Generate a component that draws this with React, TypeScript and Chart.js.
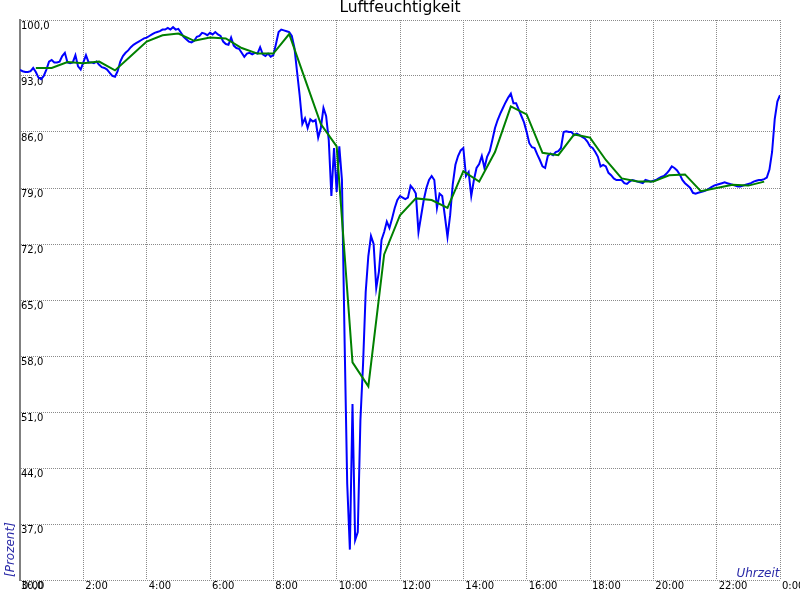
import { useEffect, useRef } from 'react';
import { Chart, registerables } from 'chart.js';

Chart.register(...registerables);

const TITLE = 'Luftfeuchtigkeit';
const Y_AXIS_LABEL = '[Prozent]';
const X_AXIS_LABEL = 'Uhrzeit';

const Y_MIN = 30;
const Y_MAX = 100;
const Y_STEP = 7;
const X_MIN_MINUTES = 0;
const X_MAX_MINUTES = 1440;
const X_TICK_STEP_MINUTES = 120;

// Measured humidity, one value every 5 minutes from 0:00 to 24:00
const MEASURE_STEP_MIN = 5;
const humidity: number[] = [
  // 0:00
  93.75, 93.6, 93.5, 93.5, 93.6, 94.0, 93.5, 92.8, 92.6, 93.0, 93.8, 94.8,
  // 1:00
  95.0, 94.7, 94.7, 94.8, 95.5, 95.9, 94.7, 94.6, 94.7, 95.6, 94.2, 93.8,
  // 2:00
  94.7, 95.6, 94.7, 94.7, 94.6, 94.8, 94.4, 94.1, 94.0, 93.8, 93.4, 93.0,
  // 3:00
  92.9, 93.6, 94.8, 95.5, 95.9, 96.2, 96.6, 96.9, 97.1, 97.3, 97.5, 97.7,
  // 4:00
  97.8, 98.0, 98.2, 98.4, 98.5, 98.6, 98.8, 98.8, 99.0, 98.8, 99.1, 98.8,
  // 5:00
  98.9, 98.4, 97.9, 97.6, 97.3, 97.2, 97.4, 97.9, 98.0, 98.4, 98.3, 98.1,
  // 6:00
  98.4, 98.2, 98.5, 98.2, 98.0, 97.3, 97.0, 96.9, 97.8, 96.8, 96.5, 96.4,
  // 7:00
  95.9, 95.4, 95.8, 95.9, 95.7, 95.9, 95.8, 96.6, 95.7, 95.5, 95.8, 95.4,
  // 8:00
  95.6, 97.0, 98.5, 98.8, 98.7, 98.6, 98.5, 98.0, 96.5, 93.5, 90.5, 87.0,
  // 9:00
  87.7, 86.5, 87.6, 87.3, 87.5, 85.3, 86.5, 89.0, 88.0, 85.0, 78.0, 84.0,
  // 10:00
  78.5, 84.2, 80.0, 60.0, 42.0, 33.8, 52.0, 35.0, 36.0, 50.0, 57.0, 66.0,
  // 11:00
  70.5, 73.0, 72.0, 66.5, 68.5, 72.5, 73.5, 74.8, 74.0, 75.2, 76.5, 77.5,
  // 12:00
  78.0, 77.8, 77.6, 77.8, 79.3, 78.9, 78.3, 73.5, 75.5, 77.5, 79.0, 80.0,
  // 13:00
  80.5, 80.0, 76.5, 78.3, 78.0, 75.5, 72.9, 75.6, 79.5, 81.9, 83.0, 83.7,
  // 14:00
  84.0, 80.5, 81.0, 78.0, 80.0, 81.5, 82.0, 83.0, 81.5, 82.9, 83.6, 85.0,
  // 15:00
  86.5, 87.5, 88.3, 89.0, 89.7, 90.3, 90.8, 89.6, 89.6, 88.8, 88.0, 87.2,
  // 16:00
  86.0, 84.6, 84.1, 84.0, 83.2, 82.5, 81.7, 81.5, 83.0, 83.3, 83.1, 83.5,
  // 17:00
  83.6, 84.0, 86.0, 86.1, 86.0, 86.0, 85.6, 85.8, 85.6, 85.4, 85.2, 84.8,
  // 18:00
  84.2, 84.0, 83.5, 82.9, 81.7, 81.9, 81.7, 80.9, 80.6, 80.2, 80.0, 80.0,
  // 19:00
  80.0, 79.6, 79.5, 79.8, 80.0, 79.9, 79.8, 79.7, 79.6, 80.0, 79.9, 79.8,
  // 20:00
  79.9, 80.0, 80.2, 80.4, 80.5, 80.8, 81.2, 81.7, 81.5, 81.2, 80.7, 80.0,
  // 21:00
  79.6, 79.3, 79.0, 78.4, 78.3, 78.4, 78.5, 78.6, 78.7, 78.9, 79.1, 79.3,
  // 22:00
  79.4, 79.5, 79.6, 79.7, 79.6, 79.5, 79.4, 79.3, 79.2, 79.2, 79.3, 79.4,
  // 23:00
  79.5, 79.6, 79.8, 79.9, 80.0, 80.0, 80.1, 80.3, 81.3, 83.5, 87.6, 89.8,
  // 24:00
  90.6,
];

// Half-hour mean, one value every 30 minutes from 0:30 to 23:30
const AVG_START_MIN = 30;
const AVG_STEP_MIN = 30;
const humidityAvg: number[] = [
  94.0, 94.0, 94.75, 94.6, 94.8, 93.7, 95.5, 97.3, 98.1, 98.3,
  97.4, 97.8, 97.7, 96.5, 95.8, 95.8, 98.25, 92.6, 87.0, 84.2,
  57.2, 54.2, 70.7, 75.6, 77.7, 77.5, 76.5, 81.1, 79.8, 83.5,
  89.2, 88.2, 83.4, 83.1, 85.7, 85.3, 82.5, 80.2, 79.8, 79.8,
  80.6, 80.7, 78.6, 79.0, 79.4, 79.3, 79.8,
];

const FONT = '"DejaVu Sans", sans-serif';
const GRID_COLOR = '#8a8a8a';
const AXIS_TITLE_COLOR = '#2a2aa8';

const axisTitlesPlugin = {
  id: 'axisTitles',
  afterDraw(chart: any) {
    const { ctx, chartArea } = chart;
    ctx.save();
    ctx.fillStyle = AXIS_TITLE_COLOR;
    ctx.font = `italic 12px ${FONT}`;
    ctx.textBaseline = 'alphabetic';
    ctx.textAlign = 'right';
    ctx.fillText(X_AXIS_LABEL, chartArea.right - 0.5, chartArea.bottom - 3.5);
    ctx.translate(13.5, chartArea.bottom - 3);
    ctx.rotate(-Math.PI / 2);
    ctx.textAlign = 'left';
    ctx.fillText(Y_AXIS_LABEL, 0, 0);
    ctx.restore();
  },
};

export default function App() {
  const canvasRef = useRef<HTMLCanvasElement | null>(null);

  useEffect(() => {
    const canvas = canvasRef.current;
    if (!canvas) return;

    const measured = humidity.map((v, i) => ({ x: i * MEASURE_STEP_MIN, y: v }));
    const averaged = humidityAvg.map((v, i) => ({ x: AVG_START_MIN + i * AVG_STEP_MIN, y: v }));

    const chart = new Chart(canvas, {
      type: 'line',
      data: {
        datasets: [
          {
            label: 'Mittel',
            data: averaged,
            borderColor: '#008000',
            backgroundColor: '#008000',
            borderWidth: 2,
            pointRadius: 0,
            tension: 0,
            order: 0,
          },
          {
            label: 'Messwert',
            data: measured,
            borderColor: '#0000ff',
            backgroundColor: '#0000ff',
            borderWidth: 2,
            pointRadius: 0,
            tension: 0,
            order: 1,
          },
        ],
      },
      options: {
        responsive: false,
        animation: false,
        events: [],
        layout: { padding: { left: 20, right: 20, top: 0, bottom: 0 } },
        plugins: {
          legend: { display: false },
          tooltip: { enabled: false },
          title: {
            display: true,
            text: TITLE,
            color: '#000',
            font: { family: FONT, size: 15.5, weight: 'normal', lineHeight: '16px' } as any,
            padding: { top: 0, bottom: 4 },
          },
        },
        scales: {
          x: {
            type: 'linear',
            min: X_MIN_MINUTES,
            max: X_MAX_MINUTES,
            afterFit: (scale: any) => {
              scale.height = 20;
              scale.paddingLeft = 0;
              scale.paddingRight = 0;
            },
            afterBuildTicks: (scale: any) => {
              const ticks = [];
              for (let m = X_MIN_MINUTES; m <= X_MAX_MINUTES; m += X_TICK_STEP_MINUTES) ticks.push({ value: m });
              scale.ticks = ticks;
            },
            ticks: {
              autoSkip: false,
              maxRotation: 0,
              minRotation: 0,
              align: 'start',
              padding: 0,
              labelOffset: 2,
              color: '#000',
              font: { family: FONT, size: 10 },
              callback: (v: any) => `${(Number(v) / 60) % 24}:00`,
            },
            grid: { color: GRID_COLOR, lineWidth: 1, drawTicks: false },
            border: { display: false, dash: [1, 1] },
          },
          y: {
            type: 'linear',
            min: Y_MIN,
            max: Y_MAX,
            afterFit: (scale: any) => {
              scale.width = 0;
              scale.paddingTop = 0;
              scale.paddingBottom = 0;
            },
            ticks: {
              stepSize: Y_STEP,
              mirror: true,
              padding: 1,
              labelOffset: 6,
              color: '#000',
              font: { family: FONT, size: 10 },
              callback: (v: any) => Number(v).toFixed(1).replace('.', ','),
            },
            grid: { color: GRID_COLOR, lineWidth: 1, drawTicks: false },
            border: { display: true, color: '#808080', width: 2, dash: [1, 1] },
          },
        },
      },
      plugins: [axisTitlesPlugin],
    } as any);

    return () => chart.destroy();
  }, []);

  return (
    <div style={{ position: 'fixed', left: 0, top: 0, width: 800, height: 600, background: '#fff' }}>
      <canvas ref={canvasRef} width={800} height={600} style={{ display: 'block', width: 800, height: 600 }} />
    </div>
  );
}
